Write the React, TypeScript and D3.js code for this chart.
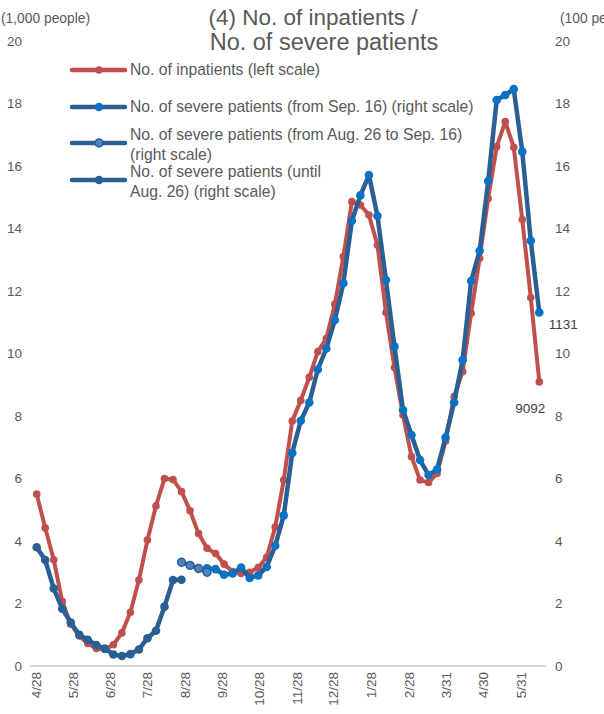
import React from "react";
import * as d3 from "d3";

const dates = [
  "2020-04-29","2020-05-06","2020-05-13","2020-05-20","2020-05-27","2020-06-03","2020-06-10","2020-06-17","2020-06-24","2020-07-01",
  "2020-07-08","2020-07-15","2020-07-22","2020-07-29","2020-08-05","2020-08-12","2020-08-19","2020-08-26","2020-09-02","2020-09-09",
  "2020-09-16","2020-09-23","2020-09-30","2020-10-07","2020-10-14","2020-10-21","2020-10-28","2020-11-04","2020-11-11","2020-11-18",
  "2020-11-25","2020-12-02","2020-12-09","2020-12-16","2020-12-23","2020-12-30","2021-01-06","2021-01-13","2021-01-20","2021-01-27",
  "2021-02-03","2021-02-10","2021-02-17","2021-02-24","2021-03-03","2021-03-10","2021-03-17","2021-03-24","2021-03-31","2021-04-07",
  "2021-04-14","2021-04-21","2021-04-28","2021-05-05","2021-05-12","2021-05-19","2021-05-26","2021-06-02","2021-06-09","2021-06-16",
];

// No. of inpatients (1,000 people), left scale
const inpatients = [
  5.50, 4.42, 3.40, 2.06, 1.34, 0.96, 0.72, 0.56, 0.53, 0.68,
  1.06, 1.72, 2.75, 4.03, 5.12, 6.00, 5.97, 5.58, 4.97, 4.24,
  3.77, 3.60, 3.26, 3.02, 2.96, 3.00, 3.15, 3.48, 4.45, 5.95,
  7.84, 8.50, 9.24, 10.06, 10.48, 11.58, 13.10, 14.86, 14.75, 14.43,
  13.47, 11.31, 9.55, 8.03, 6.70, 5.95, 5.87, 6.16, 7.20, 8.62,
  9.42, 11.29, 13.05, 14.96, 16.62, 17.42, 16.60, 14.29, 11.79, 9.092,
];

// Severe patients (100 people), right scale
const severeUntilAug26 = [
  3.80, 3.39, 2.48, 1.83, 1.39, 1.00, 0.84, 0.67, 0.56, 0.37,
  0.32, 0.38, 0.53, 0.89, 1.13, 1.90, 2.75, 2.76,
];
const severeUntilAug26Start = 0;

const severeAug26toSep16 = [3.32, 3.22, 3.12, 3.00];
const severeAug26toSep16Start = 17;

const severeFromSep16 = [
  3.13, 3.10, 2.92, 2.96, 3.15, 2.82, 2.90, 3.17, 3.85, 4.82,
  6.82, 7.85, 8.43, 9.49, 10.16, 11.07, 12.25, 14.25, 15.06, 15.71,
  14.40, 12.35, 10.22, 8.19, 7.39, 6.59, 6.11, 6.29, 7.31, 8.43,
  9.79, 12.32, 13.29, 15.52, 18.11, 18.27, 18.46, 16.46, 13.61, 11.31,
];
const severeFromSep16Start = 20;

const xTickDates = [
  "2020-04-28","2020-05-28","2020-06-28","2020-07-28","2020-08-28","2020-09-28","2020-10-28",
  "2020-11-28","2020-12-28","2021-01-28","2021-02-28","2021-03-31","2021-04-30","2021-05-31",
];
const yTicks = [0, 2, 4, 6, 8, 10, 12, 14, 16, 18, 20];

const legendItems = [
  { lines: ["No. of inpatients (left scale)"], key: "inp" },
  { lines: ["No. of severe patients (from Sep. 16) (right scale)"], key: "sep" },
  { lines: ["No. of severe patients (from Aug. 26 to Sep. 16)", "(right scale)"], key: "aug" },
  { lines: ["No. of severe patients (until", "Aug. 26) (right scale)"], key: "until" },
];

const RED = "#c0504d";
const BLUE_LINE = "#2a5f94";
const BRIGHT = "#0a72c4";
const MID = "#4f82c4";
const TEXT = "#595959";

const parse = d3.timeParse("%Y-%m-%d");
const fmt = d3.timeFormat("%-m/%-d");

export default function App() {
  const W = 604, H = 714;
  const x = d3.scaleTime()
    .domain([parse("2020-04-29")!, parse("2021-06-16")!])
    .range([36.7, 539.3]);
  const y = d3.scaleLinear().domain([0, 20]).range([666, 41]);

  const pts = (vals: number[], start: number) =>
    vals.map((v, i) => ({ d: parse(dates[start + i])!, v }));

  const line = d3.line<{ d: Date; v: number }>().x(p => x(p.d)).y(p => y(p.v));

  const inp = pts(inpatients, 0);
  const sep = pts(severeFromSep16, severeFromSep16Start);
  const aug = pts(severeAug26toSep16, severeAug26toSep16Start);
  const until = pts(severeUntilAug26, severeUntilAug26Start);

  const font = "'Liberation Sans', Arial, sans-serif";

  const marker = (key: string, cx: number, cy: number, k: number) => {
    if (key === "inp") return <circle key={k} cx={cx} cy={cy} r={3.8} fill={RED} />;
    if (key === "sep") return <circle key={k} cx={cx} cy={cy} r={4.3} fill={BRIGHT} />;
    if (key === "aug") return <circle key={k} cx={cx} cy={cy} r={3.9} fill={MID} stroke={BLUE_LINE} strokeWidth={1.5} />;
    return <circle key={k} cx={cx} cy={cy} r={4.3} fill={BLUE_LINE} />;
  };

  const last = inp[inp.length - 1];
  const lastS = sep[sep.length - 1];

  return (
    <svg width={W} height={H} style={{ position: "absolute", left: 0, top: 0, background: "#fff" }} fontFamily={font}>
      {/* title */}
      <text x={313} y={25} textAnchor="middle" fontSize={22.5} fill={TEXT}>(4) No. of inpatients /</text>
      <text x={324} y={50} textAnchor="middle" fontSize={23.5} fill={TEXT}>No. of severe patients</text>
      <text x={1} y={23} fontSize={13.8} fill={TEXT}>(1,000 people)</text>
      <text x={560} y={23} fontSize={13.8} fill={TEXT}>(100 people)</text>

      {/* y tick labels */}
      {yTicks.map(t => (
        <g key={t}>
          <text x={22} y={y(t)} dy="0.35em" textAnchor="end" fontSize={13.5} fill={TEXT}>{t}</text>
          <text x={555} y={y(t)} dy="0.35em" textAnchor="start" fontSize={13.5} fill={TEXT}>{t}</text>
        </g>
      ))}

      {/* x axis */}
      <line x1={30} x2={546} y1={y(0)} y2={y(0)} stroke="#d9d9d9" strokeWidth={2} />
      {xTickDates.map(s => {
        const d = parse(s)!;
        const xx = x(d) + 1;
        return (
          <text key={s} transform={`translate(${xx},${672}) rotate(-90)`} textAnchor="end" dy="0.35em" fontSize={13.5} fill={TEXT}>
            {fmt(d)}
          </text>
        );
      })}

      {/* series */}
      <path d={line(inp) || ""} fill="none" stroke={RED} strokeWidth={4} strokeLinejoin="round" />
      {inp.map((p, i) => marker("inp", x(p.d), y(p.v), i))}
      <path d={line(sep) || ""} fill="none" stroke={BLUE_LINE} strokeWidth={4.5} strokeLinejoin="round" />
      {sep.map((p, i) => marker("sep", x(p.d), y(p.v), i))}
      <path d={line(aug) || ""} fill="none" stroke={BLUE_LINE} strokeWidth={4.5} strokeLinejoin="round" />
      {aug.map((p, i) => marker("aug", x(p.d), y(p.v), i))}
      <path d={line(until) || ""} fill="none" stroke={BLUE_LINE} strokeWidth={4.5} strokeLinejoin="round" />
      {until.map((p, i) => marker("until", x(p.d), y(p.v), i))}

      {/* data labels */}
      <text x={x(last.d) - 9} y={y(last.v) + 26} dy="0.35em" textAnchor="middle" fontSize={13.5} fill="#404040">{d3.format("d")(Math.round(last.v * 1000))}</text>
      <text x={x(lastS.d) + 24} y={y(lastS.v) + 12} dy="0.35em" textAnchor="middle" fontSize={13.5} fill="#404040">{d3.format("d")(Math.round(lastS.v * 100))}</text>

      {/* legend */}
      {legendItems.map((it, i) => {
        const ly = [70, 107, 143, 180][i];
        return (
          <g key={it.key}>
            <line x1={72} x2={125} y1={ly} y2={ly} stroke={it.key === "inp" ? RED : BLUE_LINE} strokeWidth={4.5} strokeLinecap="round" />
            {marker(it.key, 99, ly, 0)}
            {it.lines.map((l, j) => (
              <text key={j} x={130} y={(it.lines.length > 1 ? ly - 8 : ly) + j * 20} dy="0.35em" fontSize={15.7} fill={TEXT}>{l}</text>
            ))}
          </g>
        );
      })}
    </svg>
  );
}
